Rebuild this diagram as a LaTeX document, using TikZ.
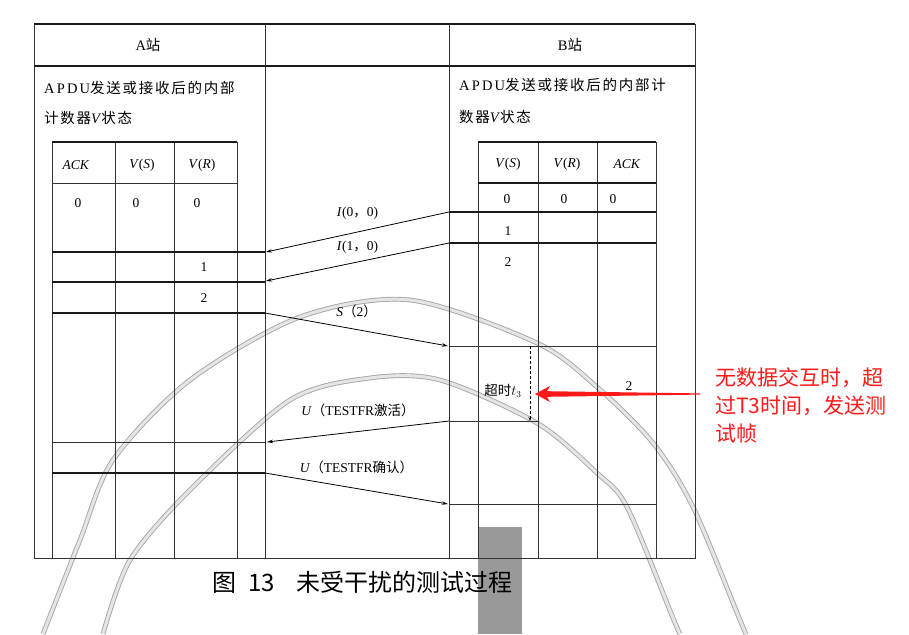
\documentclass[tikz,border=0pt]{standalone}
\usepackage{fontspec}
\setmainfont{Liberation Serif}
\newfontfamily\serifs[LetterSpace=15]{Liberation Serif}
\newfontfamily\cjk{Noto Sans CJK SC}
\newfontfamily\cjks[LetterSpace=12]{Noto Sans CJK SC}
\usetikzlibrary{arrows.meta,positioning}
\definecolor{notered}{RGB}{255,25,25}

\begin{document}
\begin{tikzpicture}[x=1pt,y=-1pt,
    grid/.style={line width=0.7pt, draw=black!80},
    rowline/.style={line width=1.3pt, draw=black!90},
    cell/.style={font=\fontsize{13.5}{15}\selectfont, inner sep=0pt},
    desc/.style={font=\fontsize{14.5}{16}\selectfont, inner sep=0pt, anchor=base west},
    msg/.style={line width=0.8pt, -{Stealth[length=6pt,width=3.5pt]}},
    msglbl/.style={font=\fontsize{13.5}{15}\selectfont, inner sep=0pt},
    stamp/.style={draw=black!35, line width=0.9pt, double=black!10, double distance=3pt},
    note/.style={font=\cjk\fontsize{21}{28}\selectfont, text=notered, inner sep=0pt, anchor=base west}]

    \useasboundingbox (0,0) rectangle (909,634);

    % stamp left over from the scan
    \draw[stamp] plot[smooth] coordinates {(43,634) (80,540) (113,460) (190,380) (300,317) (410,300) (537,343) (597,387) (653,443) (693,507) (740,620) (746,634)};
    \draw[stamp] plot[smooth] coordinates {(103,634) (130,560) (190,490) (290,400) (370,378) (440,380) (537,423) (597,473) (627,507) (673,618) (680,634)};
    \fill[black!40] (478,527) rectangle (522,634);

    % frame and columns
    \draw[grid] (34,24) rectangle (695,558);
    \draw[rowline] (34,24) -- (695,24);
    \draw[rowline] (34,66) -- (695,66);
    \foreach \x in {265,449} \draw[grid] (\x,24) -- (\x,558);

    % A table
    \foreach \x in {52,115,174,237} \draw[grid] (\x,142) -- (\x,558);
    \draw[rowline] (52,142) -- (237,142);
    \draw[grid] (52,183) -- (237,183);
    \foreach \y in {252,282,313,473} \draw[rowline] (52,\y) -- (265,\y);
    \draw[grid] (52,442) -- (265,442);

    % B table
    \foreach \x in {478,538,597,656} \draw[grid] (\x,142) -- (\x,558);
    \draw[rowline] (478,142) -- (656,142);
    \draw[rowline] (478,183) -- (656,183);
    \foreach \y in {212,243} \draw[rowline] (449,\y) -- (656,\y);
    \foreach \y in {346,504} \draw[grid] (449,\y) -- (656,\y);
    \draw[grid] (449,421) -- (538,421);

    % headings
    \node[desc, anchor=center] (ahead) at (148,45) {A{\cjks 站}};
    \node[desc, anchor=center] (bhead) at (570,45) {B{\cjks 站}};
    \node[desc] (adesc1) at (44,93) {{\serifs APDU}{\cjks 发送或接收后的内部}};
    \node[desc] (adesc2) at (44,123) {{\cjks 计数器}\textit{V}{\cjks 状态}};
    \node[desc] (bdesc1) at (459,90) {{\serifs APDU}{\cjks 发送或接收后的内部计}};
    \node[desc] (bdesc2) at (459,122) {{\cjks 数器}\textit{V}{\cjks 状态}};

    % A counters
    \node[cell] (aack) at (76,165) {\textit{ACK}};
    \node[cell] (avs) at (142,165) {\textit{V}(\textit{S})};
    \node[cell] (avr) at (202,165) {\textit{V}(\textit{R})};
    \node[cell] (aack0) at (78,203) {0};
    \node[cell] (avs0) at (136,203) {0};
    \node[cell] (avr0) at (197,203) {0};
    \node[cell] (avr1) at (204,267) {1};
    \node[cell] (avr2) at (204,298) {2};

    % B counters
    \node[cell] (bvs) at (508,164) {\textit{V}(\textit{S})};
    \node[cell] (bvr) at (567,164) {\textit{V}(\textit{R})};
    \node[cell] (back) at (627,164) {\textit{ACK}};
    \node[cell] (bvs0) at (507,199) {0};
    \node[cell] (bvr0) at (564,199) {0};
    \node[cell] (back0) at (613,199) {0};
    \node[cell] (bvs1) at (508,231) {1};
    \node[cell] (bvs2) at (508,262) {2};
    \node[cell] (back2) at (629,386) {2};
    \node[cell] (timeout) at (503,391) {{\cjk 超时}$t_3$};

    % t3 timer
    \coordinate (t3top) at (530,346);
    \coordinate (t3end) at (530,421);
    \draw[densely dashed, line width=0.6pt, -{Stealth[length=4pt,width=3pt]}] (t3top) -- (t3end);

    % frames between the stations
    \coordinate (bI0) at (449,212);  \coordinate (aI0) at (266,252);
    \coordinate (bI1) at (449,243);  \coordinate (aI1) at (266,281);
    \coordinate (aS) at (265,313);   \coordinate (bS) at (448,346);
    \coordinate (bU1) at (449,421);  \coordinate (aU1) at (267,442);
    \coordinate (aU2) at (265,473);  \coordinate (bU2) at (448,504);
    \draw[msg] (bI0) -- (aI0) node[msglbl, midway, above=12pt] {\textit{I}(0{\cjk ，}0)};
    \draw[msg] (bI1) -- (aI1) node[msglbl, midway, above=8pt] {\textit{I}(1{\cjk ，}0)};
    \draw[msg] (aS) -- (bS) node[msglbl, midway, above=11pt] {\textit{S}{\cjk （}2{\cjk ）}};
    \draw[msg] (bU1) -- (aU1) node[msglbl, midway, above=14pt] {\textit{U}{\cjk （}TESTFR{\cjk 激活）}};
    \draw[msg] (aU2) -- (bU2) node[msglbl, midway, above=14pt] {\textit{U}{\cjk （}TESTFR{\cjk 确认）}};

    % red note
    \coordinate (t3tip) at (535,394);
    \coordinate (arrtail) at (700,394);
    \fill[notered] (t3tip) -- ++(15,-8) -- ++(-3,5.2) -- ([yshift=0.6pt]arrtail) -- ([yshift=-0.6pt]arrtail)
        -- ([xshift=12pt,yshift=-2.8pt]t3tip) -- ++(3,5.2) -- cycle;
    \node[note] (note1) at (715,385.5) {无数据交互时，超};
    \node[note] (note2) at (715,413.5) {过T3时间，发送测};
    \node[note] (note3) at (715,441) {试帧};

    % caption
    \node[font=\cjk\fontsize{24}{26}\selectfont, inner sep=0pt, anchor=base west] (caption) at (212,591)
        {图\hspace{12pt}13\hspace{22pt}未受干扰的测试过程};
\end{tikzpicture}
\end{document}
